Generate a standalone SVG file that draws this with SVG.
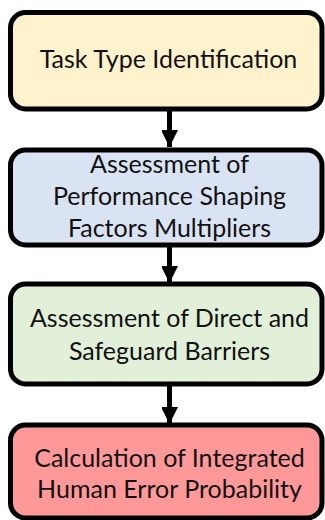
<svg xmlns="http://www.w3.org/2000/svg" width="325" height="520" viewBox="0 0 325 520">
<defs>
<style>
.box{stroke:#000;stroke-width:5}
.t{font-family:Lato,"Open Sans","Liberation Sans",sans-serif;font-size:25px;fill:#111;text-anchor:middle}
.c{stroke:#000;stroke-width:5;fill:none}
</style>
<marker id="ah" markerUnits="userSpaceOnUse" markerWidth="18" markerHeight="16" refX="17" refY="8.5" orient="auto">
<path d="M0,0 L17,8.5 L0,17 Z" fill="#000"/>
</marker>
</defs>
<rect width="325" height="520" fill="#fff"/>
<g id="connectors">
<line class="c" x1="169.5" y1="111" x2="169.5" y2="147" marker-end="url(#ah)"/>
<line class="c" x1="169.5" y1="247" x2="169.5" y2="283" marker-end="url(#ah)"/>
<line class="c" x1="169.5" y1="386" x2="169.5" y2="424" marker-end="url(#ah)"/>
</g>
<g id="n1">
<rect class="box" x="10.5" y="12.5" width="311.5" height="96.5" rx="15" fill="#FFF2CC"/>
<text class="t" x="168.5" y="68">Task Type Identification</text>
</g>
<g id="n2">
<rect class="box" x="10.5" y="150" width="311.5" height="95" rx="15" fill="#DAE3F3"/>
<text class="t" x="169.5" y="173">Assessment of</text>
<text class="t" x="169.5" y="205">Performance Shaping</text>
<text class="t" x="169.5" y="236.5">Factors Multipliers</text>
</g>
<g id="n3">
<rect class="box" x="10.5" y="284" width="311.5" height="100" rx="15" fill="#E2F0D9"/>
<text class="t" x="169.5" y="326.5">Assessment of Direct and</text>
<text class="t" x="169.5" y="360">Safeguard Barriers</text>
</g>
<g id="n4">
<rect class="box" x="10.5" y="425" width="311.5" height="93" rx="15" fill="#FF9999"/>
<text class="t" x="169.5" y="466.5">Calculation of Integrated</text>
<text class="t" x="169.5" y="498">Human Error Probability</text>
</g>
</svg>
